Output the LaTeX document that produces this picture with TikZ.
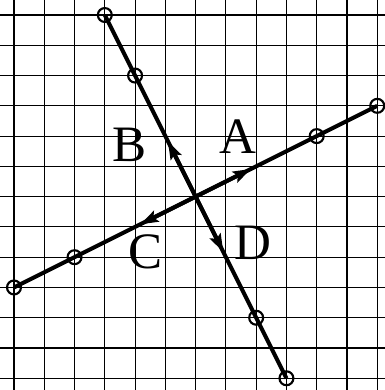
\documentclass[tikz,border=0pt]{standalone}
\usepackage{fontspec}
\setmainfont{Liberation Serif}
\usetikzlibrary{calc,arrows.meta}

\tikzset{
  gridline/.style={black, line width=1pt},
  axisline/.style={black, line width=3.8pt},
  vecarrow/.style={black, line width=3.8pt, -{Stealth[length=17pt, width=11pt, inset=3pt]}},
  ring/.style={black, line width=2pt},
  letter/.style={font=\fontsize{48}{48}\selectfont, inner sep=0pt, anchor=base}
}

\begin{document}
\begin{tikzpicture}

\useasboundingbox (-0.462,-0.387) rectangle (12.244,12.496);

% ---------------- 1. GRID ----------------
\draw[gridline] (-0.462,-0.387) grid (12.244,12.496);

% ---------------- 2. POINTS ----------------
\coordinate (O) at (6,6);
\coordinate (P1) at (3,12);
\coordinate (P2) at (4,10);
\coordinate (P3) at (8,2);
\coordinate (P4) at (9,0);
\coordinate (Q1) at (0,3);
\coordinate (Q2) at (2,4);
\coordinate (Q3) at (10,8);
\coordinate (Q4) at (12,9);

% ---------------- 3. LINES ----------------
\draw[axisline] (P1) -- (P4);
\draw[axisline] (Q1) -- (Q4);

% Marked points
\foreach \p in {P1,P2,P3,P4,Q1,Q2,Q3,Q4}
  \draw[ring] (\p) circle (0.23);

% ---------------- 4. VECTORS ----------------
\coordinate (tipA) at ($(O)!2.05cm!(Q4)$);
\coordinate (tipB) at ($(O)!2.05cm!(P1)$);
\coordinate (tipC) at ($(O)!2.05cm!(Q1)$);
\coordinate (tipD) at ($(O)!2.05cm!(P4)$);
\draw[vecarrow] (O) -- (tipA);
\draw[vecarrow] (O) -- (tipB);
\draw[vecarrow] (O) -- (tipC);
\draw[vecarrow] (O) -- (tipD);

% ---------------- 5. LABELS ----------------
\node[letter] (labA) at (7.39,7.41) {A};
\node[letter] (labB) at (3.83,7.16) {B};
\node[letter] (labC) at (4.34,3.62) {C};
\node[letter] (labD) at (7.89,3.93) {D};

\end{tikzpicture}
\end{document}
